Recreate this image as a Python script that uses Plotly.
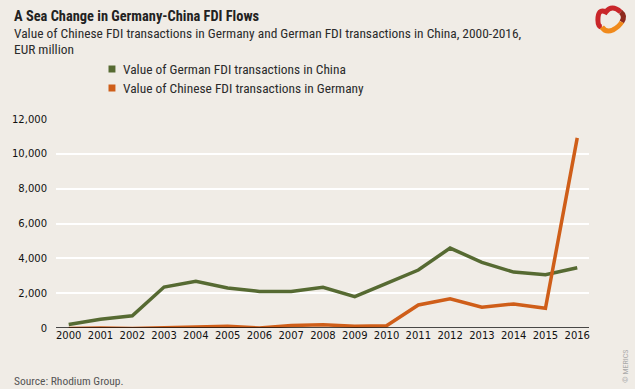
import plotly.graph_objects as go

years = list(range(2000, 2017))
german_in_china = [200, 500, 700, 2350, 2680, 2300, 2100, 2100, 2340, 1800, 2560, 3330, 4590, 3770, 3210, 3060, 3460]
chinese_in_germany = [-30, 0, -30, 0, 30, 100, 0, 150, 180, 100, 130, 1320, 1680, 1190, 1380, 1130, 10920]
y_ticks = [0, 2000, 4000, 6000, 8000, 10000, 12000]
y_tick_labels = ["0", "2,000", "4,000", "6,000", "8,000", "10,000", "12,000"]

GREEN = "#566a32"
ORANGE = "#cf5e19"
BG = "#f0ece6"
TXT = "#2b2b2b"
NARROW = "Liberation Sans Narrow, Roboto Condensed, Arial Narrow, Noto Sans"

fig = go.Figure()
fig.add_trace(go.Scatter(x=years, y=german_in_china, mode="lines",
                         line=dict(color=GREEN, width=3.5), showlegend=False,
                         name="Value of German FDI transactions in China"))
fig.add_trace(go.Scatter(x=years, y=chinese_in_germany, mode="lines",
                         line=dict(color=ORANGE, width=3.5), showlegend=False,
                         name="Value of Chinese FDI transactions in Germany"))

W, H = 635, 389
L, R, T, B = 51, 46, 119, 61
PW, PH = W - L - R, H - T - B

fig.update_layout(
    width=W, height=H,
    margin=dict(l=L, r=R, t=T, b=B),
    paper_bgcolor=BG, plot_bgcolor=BG,
    xaxis=dict(range=[1999.6, 2016.37], tickmode="array", tickvals=years,
               ticktext=[str(y) for y in years], showgrid=False, zeroline=False,
               showline=False, ticks="", tickfont=dict(family="DejaVu Sans", size=10, color="#111")),
    yaxis=dict(range=[0, 12000], tickmode="array", tickvals=y_ticks, ticktext=y_tick_labels,
               showgrid=True, gridcolor="white", gridwidth=1.5, zeroline=False,
               showline=False, ticks="", ticklabelstandoff=8,
               tickfont=dict(family="DejaVu Sans", size=10, color="#111")),
    font=dict(family=NARROW, color=TXT),
)

# zero baseline
fig.add_shape(type="line", xref="paper", yref="y", x0=0, x1=1, y0=0, y1=0,
              line=dict(color="#111", width=1.5), layer="above")

def px(x):
    return (x - L) / PW

def py(y):
    return (H - B - y) / PH

ann = []
ann.append(dict(text="<b>A Sea Change in Germany-China FDI Flows</b>", x=px(7), y=py(16),
                xanchor="left", yanchor="middle", font=dict(size=14.4, family=NARROW, color="#222")))
ann.append(dict(text="Value of Chinese FDI transactions in Germany and German FDI transactions in China, 2000-2016,",
                x=px(7), y=py(33), xanchor="left", yanchor="middle", font=dict(size=13.4, family=NARROW, color=TXT)))
ann.append(dict(text="EUR million", x=px(7), y=py(50), xanchor="left", yanchor="middle",
                font=dict(size=13.4, family=NARROW, color=TXT)))
ann.append(dict(text="Value of German FDI transactions in China", x=px(117), y=py(69),
                xanchor="left", yanchor="middle", font=dict(size=13.4, family=NARROW, color=TXT)))
ann.append(dict(text="Value of Chinese FDI transactions in Germany", x=px(117), y=py(88),
                xanchor="left", yanchor="middle", font=dict(size=13.4, family=NARROW, color=TXT)))
ann.append(dict(text="Source: Rhodium Group.", x=px(7), y=py(381), xanchor="left", yanchor="middle",
                font=dict(size=11.5, family=NARROW, color="#555")))
ann.append(dict(text="© MERICS", x=px(625), y=py(366), xanchor="center", yanchor="middle", textangle=-90,
                font=dict(size=8, family=NARROW, color="#aaa")))
for a in ann:
    a.update(xref="paper", yref="paper", showarrow=False)
    fig.add_annotation(**a)

# legend squares
for yc, col in [(69, GREEN), (88, ORANGE)]:
    fig.add_shape(type="rect", xref="paper", yref="paper",
                  x0=px(104), x1=px(111), y0=py(yc + 3.5), y1=py(yc - 3.5),
                  fillcolor=col, line=dict(width=0))

# simple logo approximation (ribbon loop)
def pth(pts):
    s = f"M {px(pts[0][0])},{py(pts[0][1])}"
    for i in range(1, len(pts), 2):
        (cx, cy), (ex, ey) = pts[i], pts[i + 1]
        s += f" Q {px(cx)},{py(cy)} {px(ex)},{py(ey)}"
    return s

fig.add_shape(type="path", xref="paper", yref="paper",
              path=pth([(621, 12), (612, 4), (606, 12), (598, 8), (598, 20), (598, 27), (602, 27)]),
              line=dict(color="#c9262a", width=5))
fig.add_shape(type="path", xref="paper", yref="paper",
              path=pth([(621, 12), (626, 16), (622, 22)]),
              line=dict(color="#8e2a1e", width=5))
fig.add_shape(type="path", xref="paper", yref="paper",
              path=pth([(602, 27), (606, 33), (613, 30), (620, 26), (622, 22)]),
              line=dict(color="#f08a1c", width=5))

fig.write_html("out.html", config={"displayModeBar": False},
               post_script="document.body.style.margin='0';document.body.style.background='" + BG + "';")
